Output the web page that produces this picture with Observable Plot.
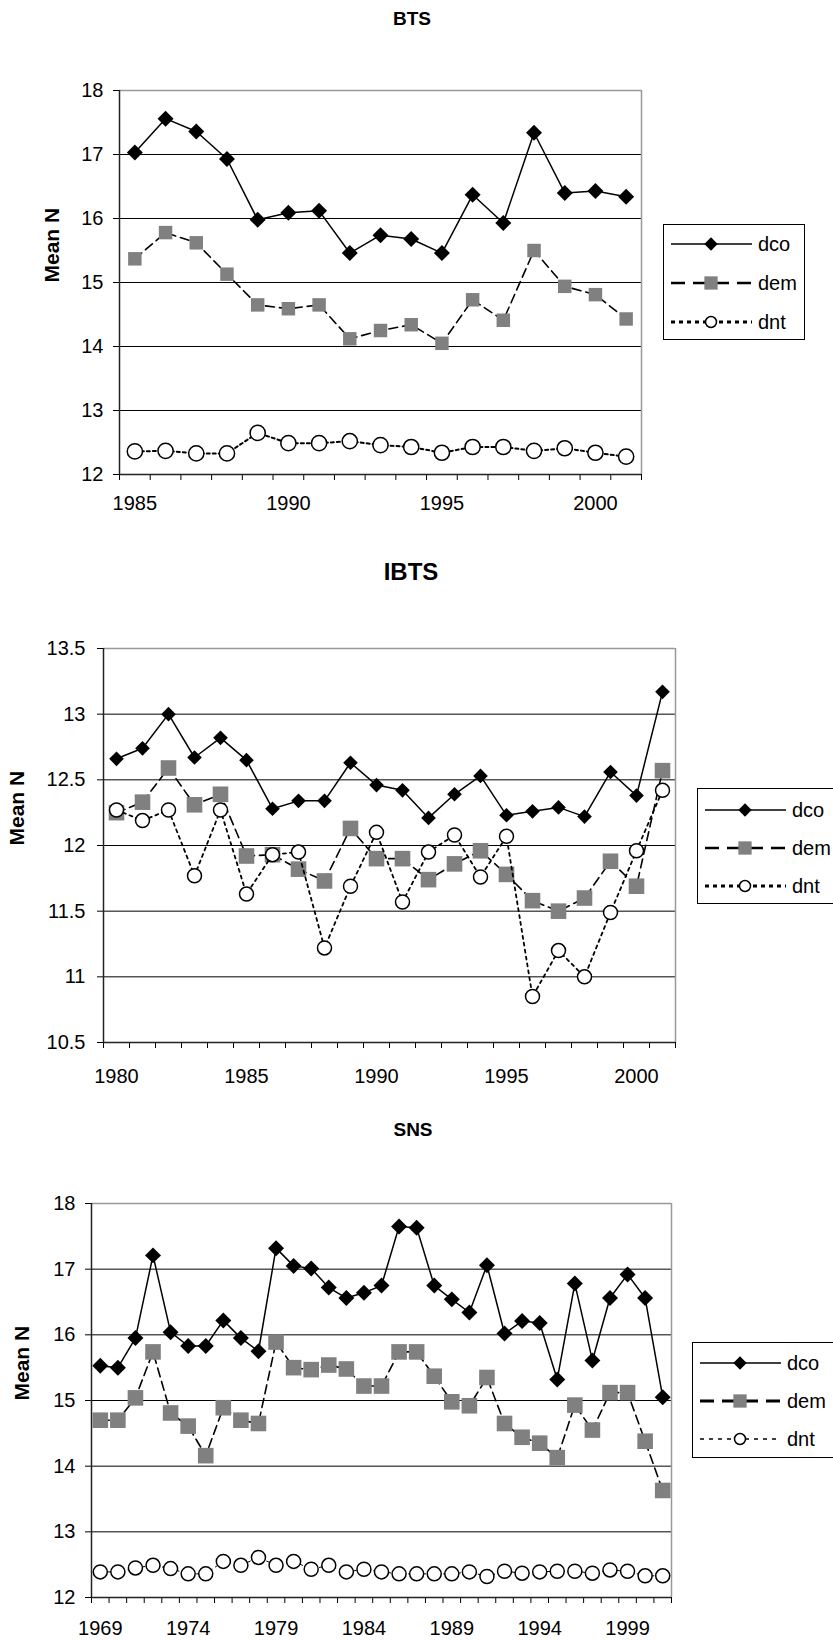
<!DOCTYPE html>
<html>
<head>
<meta charset="utf-8">
<script src="https://cdn.jsdelivr.net/npm/d3@7"></script>
<script src="https://cdn.jsdelivr.net/npm/@observablehq/plot@0.6"></script>
<style>
  html, body { margin: 0; padding: 0; background: #fff; overflow: hidden; }
  #page { position: relative; width: 833px; height: 1642px; overflow: hidden;
          font-family: "Liberation Sans", Arial, sans-serif; color: #000; }
  .chart { position: absolute; left: 0; z-index: 1; }
  .title { position: absolute; font-weight: bold; transform: translate(-50%, -50%);
           white-space: nowrap; z-index: 2; }
  .legend { position: absolute; border: 1px solid #000; background: #fff;
            box-sizing: border-box; z-index: 3; }
  .legend .row { position: absolute; left: 0; height: 24px; display: flex; align-items: center; }
  .legend svg { display: block; }
  .legend span { font-size: 20px; margin-left: 2px; }
</style>
</head>
<body>
<div id="page"></div>
<script>
// ---- BTS survey, mean N per year ----
const btsYears = [1985, 1986, 1987, 1988, 1989, 1990, 1991, 1992, 1993, 1994, 1995,
                  1996, 1997, 1998, 1999, 2000, 2001];
const btsDco = [17.03, 17.56, 17.36, 16.93, 15.98, 16.09, 16.12, 15.46, 15.74, 15.68, 15.46,
                16.37, 15.93, 17.34, 16.40, 16.43, 16.34];
const btsDem = [15.37, 15.78, 15.62, 15.13, 14.65, 14.59, 14.65, 14.12, 14.25, 14.34, 14.05,
                14.73, 14.41, 15.50, 14.94, 14.81, 14.43];
const btsDnt = [12.36, 12.37, 12.33, 12.33, 12.65, 12.49, 12.49, 12.52, 12.46, 12.43, 12.34,
                12.43, 12.43, 12.37, 12.41, 12.34, 12.28];
const btsYTicks = [12, 13, 14, 15, 16, 17, 18];
const btsXLabels = [1985, 1990, 1995, 2000];

// ---- IBTS survey ----
const ibtsYears = [1980, 1981, 1982, 1983, 1984, 1985, 1986, 1987, 1988, 1989, 1990,
                   1991, 1992, 1993, 1994, 1995, 1996, 1997, 1998, 1999, 2000, 2001];
const ibtsDco = [12.66, 12.74, 13.00, 12.67, 12.82, 12.65, 12.28, 12.34, 12.34, 12.63, 12.46,
                 12.42, 12.21, 12.39, 12.53, 12.23, 12.26, 12.29, 12.22, 12.56, 12.38, 13.17];
const ibtsDem = [12.25, 12.33, 12.59, 12.31, 12.39, 11.92, 11.93, 11.82, 11.73, 12.13, 11.90,
                 11.90, 11.74, 11.86, 11.96, 11.78, 11.58, 11.50, 11.60, 11.88, 11.69, 12.57];
const ibtsDnt = [12.27, 12.19, 12.27, 11.77, 12.27, 11.63, 11.93, 11.95, 11.22, 11.69, 12.10,
                 11.57, 11.95, 12.08, 11.76, 12.07, 10.85, 11.20, 11.00, 11.49, 11.96, 12.42];
const ibtsYTicks = [10.5, 11, 11.5, 12, 12.5, 13, 13.5];
const ibtsXLabels = [1980, 1985, 1990, 1995, 2000];

// ---- SNS survey ----
const snsYears = [1969, 1970, 1971, 1972, 1973, 1974, 1975, 1976, 1977, 1978,
                  1979, 1980, 1981, 1982, 1983, 1984, 1985, 1986, 1987, 1988,
                  1989, 1990, 1991, 1992, 1993, 1994, 1995, 1996, 1997, 1998,
                  1999, 2000, 2001];
const snsDco = [15.53, 15.50, 15.95, 17.21, 16.04, 15.83, 15.83, 16.22, 15.95, 15.75,
                17.32, 17.05, 17.01, 16.72, 16.56, 16.64, 16.75, 17.65, 17.63, 16.75,
                16.54, 16.34, 17.06, 16.02, 16.21, 16.18, 15.32, 16.78, 15.61, 16.56,
                16.92, 16.56, 15.05];
const snsDem = [14.70, 14.70, 15.04, 15.74, 14.81, 14.61, 14.16, 14.89, 14.70, 14.65,
                15.89, 15.50, 15.47, 15.54, 15.48, 15.22, 15.22, 15.74, 15.74, 15.37,
                14.98, 14.92, 15.35, 14.65, 14.44, 14.35, 14.13, 14.93, 14.55, 15.12,
                15.12, 14.38, 13.63];
const snsDnt = [12.39, 12.39, 12.45, 12.49, 12.44, 12.36, 12.36, 12.55, 12.49, 12.61,
                12.49, 12.55, 12.43, 12.49, 12.39, 12.43, 12.39, 12.36, 12.36, 12.36,
                12.36, 12.39, 12.32, 12.40, 12.37, 12.39, 12.40, 12.40, 12.37, 12.42,
                12.40, 12.33, 12.33];
const snsYTicks = [12, 13, 14, 15, 16, 17, 18];
const snsXLabels = [1969, 1974, 1979, 1984, 1989, 1994, 1999];

const seriesNames = ["dco", "dem", "dnt"];

const page = document.getElementById("page");

function addTitle(text, cx, cy, size) {
  const t = document.createElement("div");
  t.className = "title";
  t.textContent = text;
  t.style.left = cx + "px";
  t.style.top = cy + "px";
  t.style.fontSize = size + "px";
  page.appendChild(t);
}

function symbolSize(r) { return Math.PI * r * r; }

function drawChart(cfg) {
  const [dco, dem, dnt] = cfg.values;
  const toRows = vals => vals.map((v, i) => ({year: cfg.years[i], value: v}));
  const x0 = cfg.years[0] - 0.5;
  const x1 = cfg.years[cfg.years.length - 1] + 0.5;
  const bounds = cfg.years.map(y => y - 0.5).concat([x1]);
  const yMin = cfg.yTicks[0], yMax = cfg.yTicks[cfg.yTicks.length - 1];
  const inner = cfg.yTicks.slice(1, -1);
  const st = cfg.styles;

  const svg = Plot.plot({
    width: 833,
    height: cfg.height,
    marginLeft: cfg.marginLeft,
    marginRight: cfg.marginRight,
    marginTop: cfg.marginTop,
    marginBottom: cfg.marginBottom,
    x: {domain: [x0, x1]},
    y: {domain: [yMin, yMax]},
    style: {fontFamily: "'Liberation Sans', Arial, sans-serif", fontSize: "20px",
            background: "transparent", color: "#000", overflow: "visible"},
    marks: [
      Plot.gridY(inner, {stroke: "#000", strokeOpacity: 1, strokeWidth: 1}),
      Plot.ruleY([yMax], {stroke: "#999", strokeWidth: 1.5}),
      Plot.ruleX([x1], {stroke: "#999", strokeWidth: 1.5}),
      Plot.axisY({ticks: cfg.yTicks, tickSize: 6, tickPadding: cfg.yPad,
                  tickFormat: d => String(d), label: null}),
      Plot.axisX({ticks: bounds, tickSize: 6, fill: "none", label: null}),
      Plot.axisX({ticks: cfg.xLabels, tickSize: 0, tickPadding: cfg.xPad,
                  tickFormat: d => String(d), label: null}),
      Plot.ruleX([x0], {stroke: "#222", strokeWidth: 1.5}),
      Plot.ruleY([yMin], {stroke: "#222", strokeWidth: 1.5}),
      Plot.text(["Mean N"], {text: d => d, frameAnchor: "left", dx: cfg.labelDx, rotate: -90,
                             fontWeight: "bold", fontSize: 21}),
      // dco: solid line, black diamonds
      Plot.line(toRows(dco), {x: "year", y: "value", stroke: "#000", strokeWidth: st.dco.w}),
      Plot.dot(toRows(dco), {x: "year", y: "value", symbol: "diamond2", r: st.dco.r,
                             fill: "#000", stroke: "none"}),
      // dem: dashed line, grey squares
      Plot.line(toRows(dem), {x: "year", y: "value", stroke: "#000", strokeWidth: st.dem.w,
                              strokeDasharray: st.dem.dash}),
      Plot.dot(toRows(dem), {x: "year", y: "value", symbol: "square", r: st.dem.r,
                             fill: "#808080", stroke: "none"}),
      // dnt: dotted line, open circles
      Plot.line(toRows(dnt), {x: "year", y: "value", stroke: "#000", strokeWidth: st.dnt.w,
                              strokeDasharray: st.dnt.dash}),
      Plot.dot(toRows(dnt), {x: "year", y: "value", symbol: "circle", r: st.dnt.r,
                             fill: "#fff", stroke: "#000", strokeWidth: 1.5})
    ]
  });
  const holder = document.createElement("div");
  holder.className = "chart";
  holder.style.top = cfg.top + "px";
  holder.appendChild(svg);
  page.appendChild(holder);
}

function drawLegend(cfg) {
  const box = document.createElement("div");
  box.className = "legend";
  Object.assign(box.style, {left: cfg.left + "px", top: cfg.top + "px",
                            width: cfg.width + "px", height: cfg.height + "px"});
  const marks = [
    {sym: d3.symbolDiamond2, r: 6, fill: "#000", stroke: "none"},
    {sym: d3.symbolSquare, r: 7.5, fill: "#808080", stroke: "none"},
    {sym: d3.symbolCircle, r: 5.5, fill: "#fff", stroke: "#000"}
  ];
  seriesNames.forEach((name, i) => {
    const row = document.createElement("div");
    row.className = "row";
    row.style.top = (cfg.rowY[i] - 12) + "px";
    const s = d3.create("svg").attr("width", 92).attr("height", 24);
    const ls = cfg.lines[i];
    s.append("line").attr("x1", 7).attr("x2", 88).attr("y1", 12).attr("y2", 12)
      .attr("stroke", "#000").attr("stroke-width", ls.w)
      .attr("stroke-dasharray", ls.dash || null);
    const m = marks[i];
    s.append("path").attr("transform", "translate(47,12)")
      .attr("d", d3.symbol(m.sym, symbolSize(m.r))())
      .attr("fill", m.fill).attr("stroke", m.stroke).attr("stroke-width", 1.5);
    row.appendChild(s.node());
    const label = document.createElement("span");
    label.textContent = name;
    row.appendChild(label);
    box.appendChild(row);
  });
  page.appendChild(box);
}

// BTS
addTitle("BTS", 412, 19, 19);
drawChart({
  top: 40, height: 480, marginTop: 50, marginBottom: 46, marginLeft: 119, marginRight: 192,
  years: btsYears, values: [btsDco, btsDem, btsDnt], yTicks: btsYTicks, xLabels: btsXLabels,
  yPad: 10, xPad: 21, labelDx: -67,
  styles: {dco: {w: 1.5, r: 7.2}, dem: {w: 1.6, r: 7.6, dash: "9,5"}, dnt: {w: 2, r: 7.6, dash: "3,3"}}
});
drawLegend({
  left: 663, top: 224, width: 142, height: 116, rowY: [19, 58, 97],
  lines: [{w: 1.5}, {w: 2.5, dash: "14,8"}, {w: 3, dash: "4,4"}]
});

// IBTS
addTitle("IBTS", 411, 572, 24);
drawChart({
  top: 600, height: 492, marginTop: 48, marginBottom: 50, marginLeft: 103, marginRight: 158,
  years: ibtsYears, values: [ibtsDco, ibtsDem, ibtsDnt], yTicks: ibtsYTicks, xLabels: ibtsXLabels,
  yPad: 12, xPad: 26, labelDx: -86,
  styles: {dco: {w: 1.5, r: 6.6}, dem: {w: 1.6, r: 8.8, dash: "9,5"}, dnt: {w: 1.8, r: 7, dash: "3,4"}}
});
drawLegend({
  left: 697, top: 788, width: 200, height: 116, rowY: [21, 59, 97],
  lines: [{w: 1.5}, {w: 2.5, dash: "14,8"}, {w: 3, dash: "4,4"}]
});

// SNS
addTitle("SNS", 413, 1130, 19);
drawChart({
  top: 1160, height: 482, marginTop: 43, marginBottom: 45, marginLeft: 91, marginRight: 162,
  years: snsYears, values: [snsDco, snsDem, snsDnt], yTicks: snsYTicks, xLabels: snsXLabels,
  yPad: 10, xPad: 23, labelDx: -69,
  styles: {dco: {w: 1.5, r: 7.2}, dem: {w: 1.6, r: 8.8, dash: "9,5"}, dnt: {w: 1, r: 7, dash: "3,4"}}
});
drawLegend({
  left: 692, top: 1342, width: 200, height: 116, rowY: [20, 58, 96],
  lines: [{w: 1.5}, {w: 3, dash: "14,8"}, {w: 1.3, dash: "4,5"}]
});
</script>
</body>
</html>
